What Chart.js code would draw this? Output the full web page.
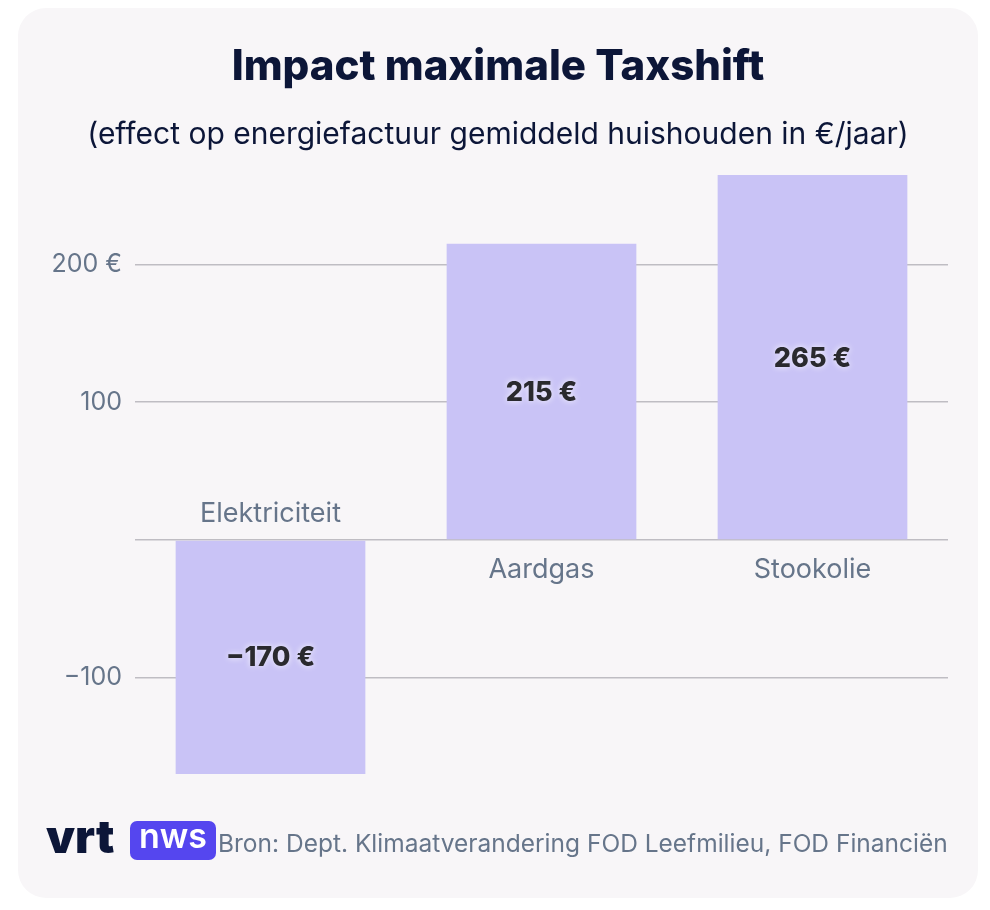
<!DOCTYPE html>
<html>
<head>
<meta charset="utf-8">
<script src="https://cdn.jsdelivr.net/npm/chart.js@4"></script>
<style>
  html, body { margin: 0; padding: 0; background: #ffffff; }
  #wrap { position: relative; width: 990px; height: 910px; }
  #card { position: absolute; left: 18px; top: 8px; width: 960px; height: 890px;
          background: #f8f6f8; border-radius: 28px; }
  #chart { position: absolute; left: 0; top: 0; }
</style>
</head>
<body>
<div id="wrap">
  <div id="card"></div>
  <canvas id="chart" width="990" height="910"></canvas>
</div>
<script>
// ========================
// Data
// ========================
const categories = ['Elektriciteit', 'Aardgas', 'Stookolie'];
const values = [-170, 215, 265];
const tickValues = [-100, 0, 100, 200];
const tickLabels = ['\u2212100', '', '100', '200 \u20ac'];

const titleText = 'Impact maximale Taxshift';
const subtitleText = '(effect op energiefactuur gemiddeld huishouden in \u20ac/jaar)';
const sourceText = 'Bron: Dept. Klimaatverandering FOD Leefmilieu, FOD Financi\u00ebn';

const slate = '#66758a';
const navy = '#0c1638';
const FONT = 'Inter, "Noto Sans", sans-serif';

// ========================
// Plugins
// ========================
const headerFooter = {
    id: 'headerFooter',
    afterDraw(chart) {
        const { ctx } = chart;
        ctx.save();
        ctx.textAlign = 'center';
        ctx.textBaseline = 'middle';
        ctx.fillStyle = navy;
        ctx.font = '800 42px ' + FONT;
        ctx.fillText(titleText, 498, 67);
        ctx.font = '400 30px ' + FONT;
        ctx.fillText(subtitleText, 498, 135);

        // logo
        ctx.textAlign = 'left';
        ctx.font = '900 46px ' + FONT;
        ctx.fillText('vrt', 46, 839);
        ctx.fillStyle = '#5546ef';
        ctx.beginPath();
        ctx.roundRect(130, 821, 86, 39, 7);
        ctx.fill();
        ctx.fillStyle = '#ffffff';
        ctx.font = '600 34px ' + FONT;
        ctx.textAlign = 'center';
        ctx.fillText('nws', 173, 838);

        ctx.textAlign = 'left';
        ctx.fillStyle = slate;
        ctx.font = '400 24.5px ' + FONT;
        ctx.fillText(sourceText, 218, 845);
        ctx.restore();
    }
};

const barLabels = {
    id: 'barLabels',
    afterDatasetsDraw(chart) {
        const { ctx } = chart;
        const meta = chart.getDatasetMeta(0);
        const zeroY = chart.scales.y.getPixelForValue(0);
        ctx.save();
        ctx.textAlign = 'center';
        ctx.textBaseline = 'middle';
        meta.data.forEach((bar, i) => {
            const v = values[i];
            // category name next to the zero line
            ctx.fillStyle = slate;
            ctx.font = '400 27px ' + FONT;
            ctx.fillText(categories[i], bar.x, v < 0 ? zeroY - 26 : zeroY + 30);
            // value in the middle of the bar
            const txt = (v < 0 ? '\u2212' : '') + Math.abs(v) + ' \u20ac';
            ctx.font = '800 27px ' + FONT;
            ctx.shadowColor = 'rgba(255,255,255,0.9)';
            ctx.shadowBlur = 6;
            ctx.fillStyle = '#2a2a2e';
            ctx.fillText(txt, bar.x, (bar.y + zeroY) / 2 + 1);
            ctx.shadowBlur = 0;
        });
        ctx.restore();
    }
};

// ========================
// Chart
// ========================
new Chart(document.getElementById('chart'), {
    type: 'bar',
    data: {
        labels: categories,
        datasets: [{
            data: values,
            backgroundColor: '#c9c3f6',
            borderWidth: 0,
            barPercentage: 0.7,
            categoryPercentage: 1
        }]
    },
    options: {
        responsive: false,
        animation: false,
        devicePixelRatio: 1,
        layout: { padding: { left: 0, right: 42, top: 175, bottom: 136 } },
        plugins: { legend: { display: false }, tooltip: { enabled: false } },
        scales: {
            x: { display: false },
            y: {
                min: -170,
                max: 265,
                afterFit(scale) { scale.width = 135; },
                afterBuildTicks(scale) { scale.ticks = tickValues.map(v => ({ value: v })); },
                border: { display: false },
                grid: { color: '#bfbdc3', lineWidth: 1.5, drawTicks: false },
                ticks: {
                    padding: 13,
                    color: slate,
                    font: { family: FONT, size: 25 },
                    callback: (v) => tickLabels[tickValues.indexOf(v)]
                }
            }
        }
    },
    plugins: [headerFooter, barLabels]
});
</script>
</body>
</html>
